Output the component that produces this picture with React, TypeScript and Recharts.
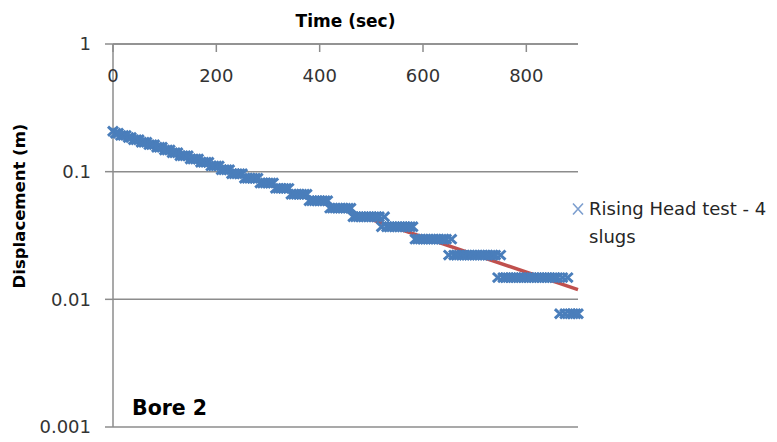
import React from 'react';
import { ComposedChart, Scatter, Line, XAxis, YAxis, CartesianGrid, Legend } from 'recharts';

// Logger sampling interval (seconds) for the displacement series
const SAMPLE_INTERVAL_SEC = 5;

// Displacement readings (m), one per sample
const displacementM: number[] = [
  0.2072, 0.1998, 0.1998, 0.1924, 0.1924, 0.1924, 0.185, 0.185,
  0.1776, 0.1776, 0.1776, 0.1702, 0.1702, 0.1702, 0.1628, 0.1628, 0.1628,
  0.1554, 0.1554, 0.1554, 0.148, 0.148, 0.148, 0.1406, 0.1406, 0.1406,
  0.1332, 0.1332, 0.1332, 0.1332, 0.1258, 0.1258, 0.1258, 0.1258,
  0.1184, 0.1184, 0.1184, 0.1184, 0.111, 0.111, 0.111, 0.111,
  0.1036, 0.1036, 0.1036, 0.1036, 0.0962, 0.0962, 0.0962, 0.0962, 0.0962,
  0.0888, 0.0888, 0.0888, 0.0888, 0.0888, 0.0888,
  0.0814, 0.0814, 0.0814, 0.0814, 0.0814, 0.0814,
  0.074, 0.074, 0.074, 0.074, 0.074, 0.074,
  0.0666, 0.0666, 0.0666, 0.0666, 0.0666, 0.0666, 0.0666,
  0.0592, 0.0592, 0.0592, 0.0592, 0.0592, 0.0592, 0.0592, 0.0592,
  0.0518, 0.0518, 0.0518, 0.0518, 0.0518, 0.0518, 0.0518, 0.0518, 0.0518,
  0.0444, 0.0444, 0.0444, 0.0444, 0.0444, 0.0444, 0.0444, 0.0444, 0.0444, 0.0444, 0.0444,
  0.037, 0.0444,
  0.037, 0.037, 0.037, 0.037, 0.037, 0.037, 0.037, 0.037, 0.037, 0.037, 0.037,
  0.0296, 0.0296, 0.0296, 0.0296, 0.0296, 0.0296, 0.0296, 0.0296, 0.0296, 0.0296, 0.0296, 0.0296, 0.0296,
  0.0222, 0.0296,
  0.0222, 0.0222, 0.0222, 0.0222, 0.0222, 0.0222, 0.0222, 0.0222, 0.0222,
  0.0222, 0.0222, 0.0222, 0.0222, 0.0222, 0.0222, 0.0222, 0.0222,
  0.0148, 0.0222,
  0.0148, 0.0148, 0.0148, 0.0148, 0.0148, 0.0148, 0.0148, 0.0148, 0.0148, 0.0148, 0.0148,
  0.0148, 0.0148, 0.0148, 0.0148, 0.0148, 0.0148, 0.0148, 0.0148, 0.0148, 0.0148, 0.0148,
  0.0077, 0.0148, 0.0077, 0.0148,
  0.0077, 0.0077, 0.0077, 0.0077,
];

// Exponential trendline end points (time s, displacement m)
const trendTimeSec = [0, 900];
const trendDisplacementM = [0.205, 0.0119];

const timeTicks = [0, 200, 400, 600, 800];
const displacementTicks = [0.001, 0.01, 0.1, 1];

const seriesName = 'Rising Head test - 4 slugs';
const xTitle = 'Time (sec)';
const yTitle = 'Displacement (m)';
const chartNote = 'Bore 2';

const scatterData = displacementM.map((d, i) => ({ t: i * SAMPLE_INTERVAL_SEC, d }));
const trendData = trendTimeSec.map((t, i) => ({ t, d: trendDisplacementM[i] }));

const FONT = "'DejaVu Sans', sans-serif";
const GRID = '#8c8c8c';
const BLUE = '#4a7ebb';
const RED = '#c0504d';

const CrossMark = (props: any) => {
  const { cx, cy } = props;
  if (cx == null || cy == null) return null;
  const w = 5;
  const h = 4.6;
  return (
    <path
      d={`M${cx - w},${cy - h}L${cx + w},${cy + h}M${cx - w},${cy + h}L${cx + w},${cy - h}`}
      stroke={BLUE}
      strokeWidth={3}
      fill="none"
    />
  );
};

const LegendContent = () => (
  <div
    style={{
      display: 'flex',
      alignItems: 'flex-start',
      fontFamily: FONT,
      fontSize: 18,
      lineHeight: '28px',
      color: '#262626',
    }}
  >
    <svg width={14} height={28} style={{ flex: 'none' }}>
      <path d="M3,8.5L13,19.5M3,19.5L13,8.5" stroke="#7d9fcf" strokeWidth={1.6} fill="none" />
    </svg>
    <span style={{ width: 186, marginLeft: 5 }}>{seriesName}</span>
  </div>
);

export default function App() {
  return (
    <div style={{ position: 'absolute', left: 0, top: 0, width: 777, height: 442, background: '#fff' }}>
      <ComposedChart
        width={777}
        height={442}
        margin={{ top: 44, right: 199, bottom: 15, left: 0 }}
      >
        <CartesianGrid vertical={false} stroke={GRID} strokeWidth={1.5} />
        <XAxis
          type="number"
          dataKey="t"
          orientation="top"
          mirror
          domain={[0, 900]}
          ticks={timeTicks}
          interval={0}
          tickSize={8}
          tickMargin={17}
          axisLine={{ stroke: GRID, strokeWidth: 1.5 }}
          tickLine={{ stroke: GRID, strokeWidth: 1.5 }}
          tick={{ fill: '#333', fontSize: 18, fontFamily: FONT }}
        />
        <YAxis
          type="number"
          dataKey="d"
          scale="log"
          domain={[0.001, 1]}
          ticks={displacementTicks}
          interval={0}
          tickFormatter={(v: number) => String(v)}
          width={113}
          tickSize={8}
          tickMargin={14}
          axisLine={{ stroke: GRID, strokeWidth: 1.5 }}
          tickLine={{ stroke: GRID, strokeWidth: 1.5 }}
          tick={{ fill: '#333', fontSize: 18, fontFamily: FONT }}
        />
        <Line
          data={trendData}
          dataKey="d"
          type="linear"
          stroke={RED}
          strokeWidth={3.5}
          dot={false}
          activeDot={false}
          legendType="none"
          isAnimationActive={false}
        />
        <Scatter
          name={seriesName}
          data={scatterData}
          dataKey="d"
          shape={CrossMark}
          isAnimationActive={false}
        />
        <Legend
          layout="vertical"
          align="center"
          verticalAlign="middle"
          wrapperStyle={{ left: 570, top: 195, width: 207 }}
          content={LegendContent}
        />
      </ComposedChart>
      <svg
        width={777}
        height={442}
        style={{ position: 'absolute', left: 0, top: 0, pointerEvents: 'none' }}
      >
        <text x={345.5} y={27} textAnchor="middle" fontFamily={FONT} fontWeight="bold" fontSize={17} fill="#000">
          {xTitle}
        </text>
        <text
          x={25}
          y={206}
          textAnchor="middle"
          transform="rotate(-90 25 206)"
          fontFamily={FONT}
          fontWeight="bold"
          fontSize={16.5}
          fill="#000"
        >
          {yTitle}
        </text>
        <text x={132} y={415} fontFamily={FONT} fontWeight="bold" fontSize={20.5} fill="#000">
          {chartNote}
        </text>
      </svg>
    </div>
  );
}
